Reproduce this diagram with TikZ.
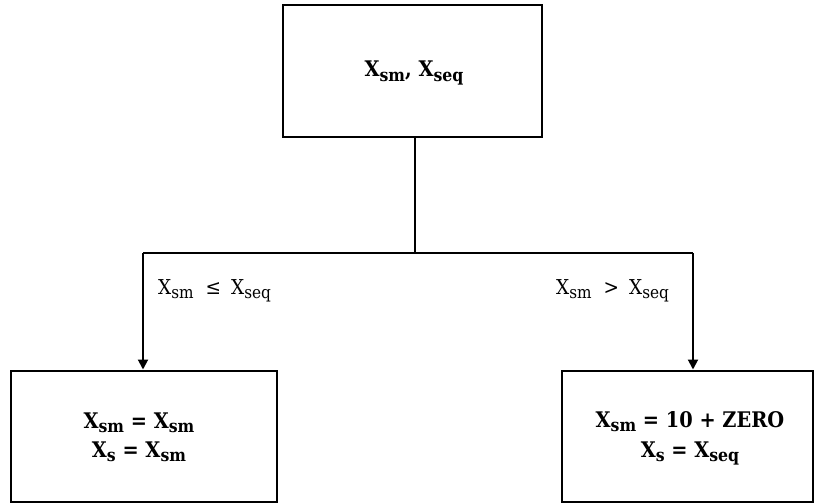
\documentclass[tikz,border=0pt]{standalone}
\usepackage{fontspec}
\usetikzlibrary{arrows.meta}
\newfontfamily\boxserif{DejaVu Serif Condensed}
\newcommand\mainsize{\fontsize{21.5}{29}\selectfont}
\newcommand\condsize{\fontsize{20.5}{24}\selectfont}
% lowered subscript, in the weight of the surrounding text
\newcommand\lowsub[1]{\raisebox{-4.5pt}{\fontsize{17.5}{17}\selectfont #1}}
\newcommand\condsub[1]{\raisebox{-4.5pt}{\fontsize{17}{17}\selectfont #1}}
\tikzset{
  box/.style={draw=black,line width=2pt,fill=white,inner sep=0pt},
  wire/.style={draw=black,line width=2pt},
  arrowwire/.style={wire,-{Triangle[length=10pt,width=10pt]}},
  boxtext/.style={anchor=base,inner sep=0pt,font=\boxserif\bfseries\mainsize},
  cond/.style={anchor=base west,inner sep=0pt,font=\boxserif\condsize}
}
\begin{document}
\begin{tikzpicture}[x=1pt,y=-1pt]
  \useasboundingbox (0,0) rectangle (815,503);

  % decision source
  \node[box,minimum width=259pt,minimum height=132pt] (top) at (412,71) {};
  \node[boxtext] (toptxt) at (414,77) {X\lowsub{sm}, X\lowsub{seq}};

  % outcome boxes
  \node[box,minimum width=266pt,minimum height=131pt] (left) at (144,436) {};
  \node[boxtext] (left1) at (139,428) {X\lowsub{sm} = X\lowsub{sm}};
  \node[boxtext] (left2) at (139,457) {X\lowsub{s} = X\lowsub{sm}};
  \node[box,minimum width=251pt,minimum height=131pt] (right) at (687,436) {};
  \node[boxtext] (right1) at (690,427) {X\lowsub{sm} = 10 + ZERO};
  \node[boxtext] (right2) at (690,457) {X\lowsub{s} = X\lowsub{seq}};

  % branching connectors
  \coordinate (split) at (415,253);
  \coordinate (lcorner) at (143,253);
  \coordinate (rcorner) at (693,253);
  \draw[wire] (top.south -| split) -- (split);
  \draw[wire] (lcorner) -- (rcorner);
  \draw[arrowwire] (lcorner) -- (lcorner |- left.north);
  \draw[arrowwire] (rcorner) -- (rcorner |- right.north);

  % branch conditions
  \node[cond] (lcond) at (158,294) {X\condsub{sm}\hspace{12pt}≤\hspace{10pt}X\condsub{seq}};
  \node[cond] (rcond) at (556,294) {X\condsub{sm}\hspace{12pt}>\hspace{10pt}X\condsub{seq}};
\end{tikzpicture}
\end{document}
